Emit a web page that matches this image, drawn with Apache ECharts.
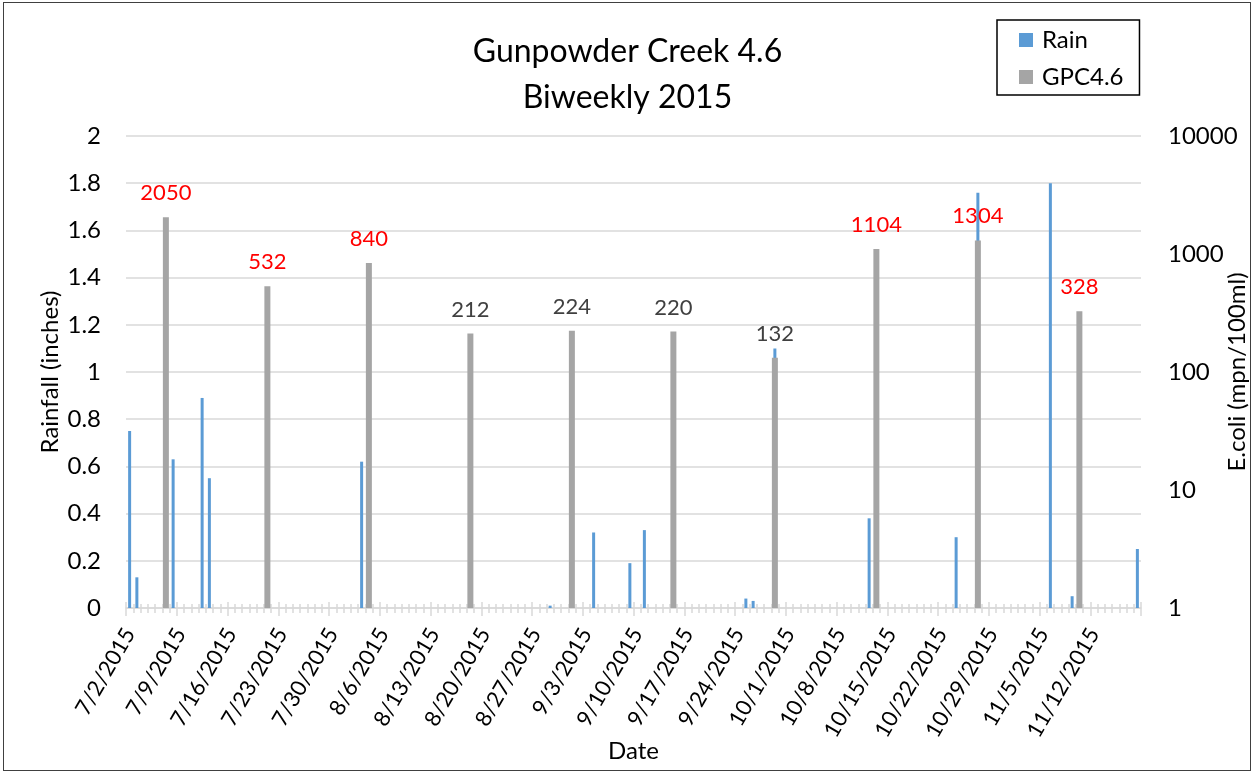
<!DOCTYPE html>
<html>
<head>
<meta charset="utf-8">
<script src="https://cdn.jsdelivr.net/npm/echarts@6/dist/echarts.min.js"></script>
<style>
  html, body { margin: 0; padding: 0; background: #fff; }
  #c { width: 1255px; height: 772px; }
  #frame { position: absolute; left: 3px; top: 2px; width: 1246px; height: 767px; border: 1px solid #404040; pointer-events: none; }
</style>
</head>
<body>
<div id="c"></div>
<div id="frame"></div>
<script>
// ---- data ----
const firstDay = '2015-07-02';
const dayCount = 140; // daily categories 7/2/2015 .. 11/18/2015

const rainDates  = ['7/2/2015','7/3/2015','7/8/2015','7/12/2015','7/13/2015','8/3/2015','8/29/2015','9/4/2015','9/9/2015','9/11/2015','9/25/2015','9/26/2015','9/29/2015','10/12/2015','10/24/2015','10/27/2015','11/6/2015','11/9/2015','11/18/2015'];
const rainValues = [0.75, 0.13, 0.63, 0.89, 0.55, 0.62, 0.01, 0.32, 0.19, 0.33, 0.04, 0.03, 1.10, 0.38, 0.30, 1.76, 1.80, 0.05, 0.25];

const ecoliDates  = ['7/7/2015','7/21/2015','8/4/2015','8/18/2015','9/1/2015','9/15/2015','9/29/2015','10/13/2015','10/27/2015','11/10/2015'];
const ecoliValues = [2050, 532, 840, 212, 224, 220, 132, 1104, 1304, 328];

const ecoliLimit = 235; // labels above this are shown red

const leftTicks  = [0, 2, 0.2];        // min, max, step (inches)
const rightTicks = [1, 10000];         // log axis range

// ---- build categories ----
const categories = [];
(function () {
  const d = new Date(firstDay + 'T12:00:00');
  for (let i = 0; i < dayCount; i++) {
    categories.push((d.getMonth() + 1) + '/' + d.getDate() + '/' + d.getFullYear());
    d.setDate(d.getDate() + 1);
  }
})();

const rainSeries = categories.map(function (c) {
  const k = rainDates.indexOf(c);
  return k >= 0 ? rainValues[k] : null;
});
const ecoliSeries = categories.map(function (c) {
  const k = ecoliDates.indexOf(c);
  if (k < 0) return null;
  const v = ecoliValues[k];
  return { value: v, label: { color: v > ecoliLimit ? '#ff0000' : '#404040' } };
});

// ---- chart ----
const FONT = 'Lato, "Liberation Sans", sans-serif';
const GRID = '#d9d9d9';

function xAx(extra) {
  return Object.assign({
    type: 'category',
    data: categories,
    position: 'bottom',
    boundaryGap: true,
    axisLine: { show: false, onZero: false },
    axisLabel: { show: false },
    splitLine: { show: false }
  }, extra);
}

const chart = echarts.init(document.getElementById('c'), null, { renderer: 'canvas' });
chart.setOption({
  animation: false,
  backgroundColor: '#ffffff',
  textStyle: { fontFamily: FONT },
  title: {
    text: 'Gunpowder Creek 4.6\nBiweekly 2015',
    left: 'center',
    top: 24,
    textStyle: { fontFamily: FONT, fontSize: 32, fontWeight: 'normal', color: '#000', lineHeight: 46 }
  },
  legend: {
    orient: 'vertical',
    left: 997,
    top: 20,
    icon: 'rect',
    itemWidth: 14,
    itemHeight: 14,
    itemGap: 9,
    padding: [6, 16, 4, 22],
    borderColor: '#000',
    borderWidth: 1.5,
    textStyle: { fontFamily: FONT, fontSize: 24, color: '#000', lineHeight: 28, padding: [0, 0, 0, 4] },
    data: ['Rain', 'GPC4.6']
  },
  grid: { left: 126, right: 114, top: 136, bottom: 164, containLabel: false, outerBoundsMode: 'none' },
  xAxis: [
    xAx({
      axisLine: { show: true, onZero: false, lineStyle: { color: GRID, width: 1.5 } },
      axisTick: { show: true, interval: 0, inside: false, length: 5, lineStyle: { color: GRID, width: 1.5 } },
      axisLabel: { show: true, interval: 6, rotate: 60, margin: 22, padding: [9, 0, 0, 0], fontSize: 22, color: '#000', fontFamily: FONT },
      name: 'Date',
      nameLocation: 'middle',
      nameGap: 131,
      nameMoveOverlap: false,
      nameTextStyle: { fontFamily: FONT, fontSize: 24, color: '#000', lineHeight: 25 }
    }),
    xAx({ axisTick: { show: true, interval: 0, inside: true, length: 4, lineStyle: { color: GRID, width: 1.5 } } }),
    xAx({ axisTick: { show: true, interval: 6, inside: false, length: 8, lineStyle: { color: GRID, width: 1.5 } } }),
    xAx({ axisTick: { show: true, interval: 6, inside: true, length: 6, lineStyle: { color: GRID, width: 1.5 } } })
  ],
  yAxis: [
    {
      type: 'value',
      position: 'left',
      min: leftTicks[0],
      max: leftTicks[1],
      interval: leftTicks[2],
      axisLine: { show: false },
      axisTick: { show: false },
      splitLine: { show: true, lineStyle: { color: GRID, width: 1.5 } },
      axisLabel: { fontSize: 24, color: '#000', margin: 25, fontFamily: FONT },
      name: 'Rainfall (inches)',
      nameLocation: 'middle',
      nameRotate: 90,
      nameGap: 64,
      nameMoveOverlap: false,
      nameTextStyle: { fontFamily: FONT, fontSize: 24, color: '#000' }
    },
    {
      type: 'log',
      logBase: 10,
      position: 'right',
      min: rightTicks[0],
      max: rightTicks[1],
      axisLine: { show: false },
      axisTick: { show: false },
      splitLine: { show: false },
      axisLabel: { fontSize: 24, color: '#000', margin: 27, fontFamily: FONT, formatter: function (v) { return String(Math.round(v)); } },
      name: 'E.coli (mpn/100ml)',
      nameLocation: 'middle',
      nameRotate: 90,
      nameGap: 84,
      nameMoveOverlap: false,
      nameTextStyle: { fontFamily: FONT, fontSize: 24, color: '#000' }
    }
  ],
  series: [
    {
      name: 'Rain',
      type: 'bar',
      xAxisIndex: 0,
      yAxisIndex: 0,
      barWidth: 3,
      itemStyle: { color: '#5b9bd5' },
      data: rainSeries,
      z: 2
    },
    {
      name: 'GPC4.6',
      type: 'bar',
      xAxisIndex: 1,
      yAxisIndex: 1,
      barWidth: 6,
      itemStyle: { color: '#a5a5a5' },
      label: { show: true, position: 'top', distance: 13, fontSize: 22, fontFamily: FONT },
      data: ecoliSeries,
      z: 3
    }
  ]
});
</script>
</body>
</html>
